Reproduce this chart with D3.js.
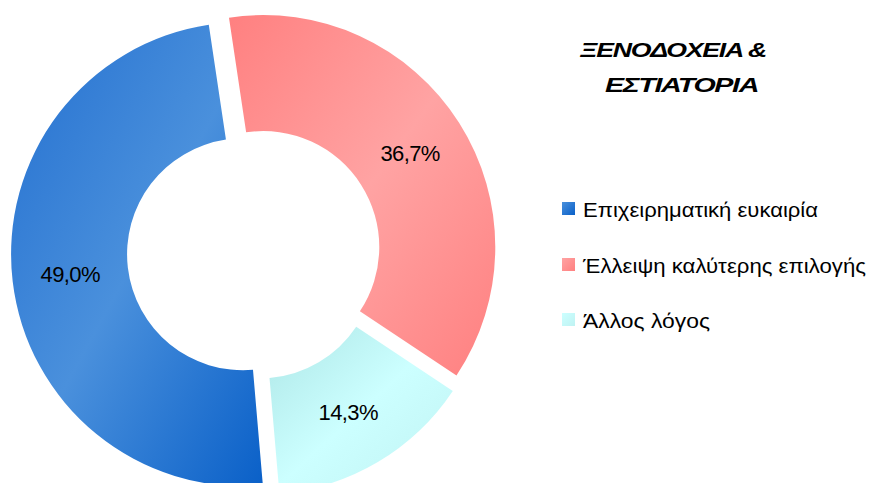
<!DOCTYPE html>
<html>
<head>
<meta charset="utf-8">
<script src="https://cdn.jsdelivr.net/npm/d3@7"></script>
<style>
  body { margin: 0; background: #fff; }
  svg { display: block; font-family: "Liberation Sans", Arial, sans-serif; }
</style>
</head>
<body>
<div id="chart"></div>
<script>
// podaci
var categories = ["Επιχειρηματική ευκαιρία", "Έλλειψη καλύτερης επιλογής", "Άλλος λόγος"];
var values = [49.0, 36.7, 14.3];
var titleLines = ["ΞΕΝΟΔΟΧΕΙΑ &", "ΕΣΤΙΑΤΟΡΙΑ"];
var sliceOrder = [1, 2, 0]; // redoslijed u krugu, od vrha u smjeru kazaljke

var width = 871, height = 483;
var cx = 254, cy = 253;
var outerR = 232, innerR = 116;
var explode = 11;
var startAngle = -8.5 * Math.PI / 180;

// boje gradijenata: [kraj, sredina, kraj]
var sliceColors = [
    ["#2470d0", "#4a90dc", "#0a60c8"],
    ["#ff8080", "#ffa3a3", "#ff8080"],
    ["#ade6e6", "#ccffff", "#bff2f2"]
];

var svg = d3.select("#chart")
    .append("svg")
    .attr("width", width)
    .attr("height", height);

var defs = svg.append("defs");

sliceColors.forEach(function (c, i) {
    var g = defs.append("linearGradient")
        .attr("id", "grad" + i)
        .attr("x1", 0).attr("y1", 0).attr("x2", 1).attr("y2", 1);
    g.append("stop").attr("offset", "0%").attr("stop-color", c[0]);
    g.append("stop").attr("offset", "50%").attr("stop-color", c[1]);
    g.append("stop").attr("offset", "100%").attr("stop-color", c[2]);

    var lg = defs.append("linearGradient")
        .attr("id", "legGrad" + i)
        .attr("x1", 0).attr("y1", 0).attr("x2", 1).attr("y2", 1);
    lg.append("stop").attr("offset", "0%").attr("stop-color", c[1]);
    lg.append("stop").attr("offset", "100%").attr("stop-color", c[2]);
});

var pie = d3.pie()
    .value(function (i) { return values[i]; })
    .sort(null)
    .startAngle(startAngle)
    .endAngle(startAngle + 2 * Math.PI);

var arc = d3.arc().innerRadius(innerR).outerRadius(outerR);
var labelArc = d3.arc().innerRadius((innerR + outerR) / 2).outerRadius((innerR + outerR) / 2);

var arcs = pie(sliceOrder);

function offset(d) {
    var mid = (d.startAngle + d.endAngle) / 2;
    return [explode * Math.sin(mid), -explode * Math.cos(mid)];
}

var donut = svg.append("g")
    .attr("transform", "translate(" + cx + "," + cy + ")");

var slices = donut.selectAll(".slice")
    .data(arcs)
    .enter()
    .append("g")
    .attr("class", "slice")
    .attr("transform", function (d) {
        var o = offset(d);
        return "translate(" + o[0] + "," + o[1] + ")";
    });

slices.append("path")
    .attr("d", arc)
    .attr("fill", function (d) { return "url(#grad" + d.data + ")"; });

slices.append("text")
    .attr("x", function (d) { return labelArc.centroid(d)[0]; })
    .attr("y", function (d) { return labelArc.centroid(d)[1]; })
    .attr("text-anchor", "middle")
    .attr("dominant-baseline", "central")
    .style("font-size", "22px")
    .style("letter-spacing", "-0.6px")
    .attr("fill", "#000")
    .text(function (d) { return values[d.data].toFixed(1).replace(".", ",") + "%"; });

// naslov
var titleX = [580, 605], titleY = [57, 92], titleW = [186, 153];
svg.selectAll(".title")
    .data(titleLines)
    .enter()
    .append("text")
    .attr("class", "title")
    .attr("x", function (d, i) { return titleX[i]; })
    .attr("y", function (d, i) { return titleY[i]; })
    .attr("textLength", function (d, i) { return titleW[i]; })
    .attr("lengthAdjust", "spacingAndGlyphs")
    .style("font-size", "21px")
    .style("font-weight", "bold")
    .style("font-style", "italic")
    .style("letter-spacing", "-1px")
    .text(function (d) { return d; });

// legenda
var legendTop = [202, 258, 313], legendW = [235, 283, 127];
var legend = svg.selectAll(".legend")
    .data(categories)
    .enter()
    .append("g")
    .attr("class", "legend");

legend.append("rect")
    .attr("x", 562)
    .attr("y", function (d, i) { return legendTop[i]; })
    .attr("width", 13)
    .attr("height", 13)
    .attr("fill", function (d, i) { return "url(#legGrad" + i + ")"; });

legend.append("text")
    .attr("x", 583)
    .attr("y", function (d, i) { return legendTop[i] + 15; })
    .attr("textLength", function (d, i) { return legendW[i]; })
    .attr("lengthAdjust", "spacingAndGlyphs")
    .style("font-size", "21px")
    .attr("fill", "#000")
    .text(function (d) { return d; });
</script>
</body>
</html>
